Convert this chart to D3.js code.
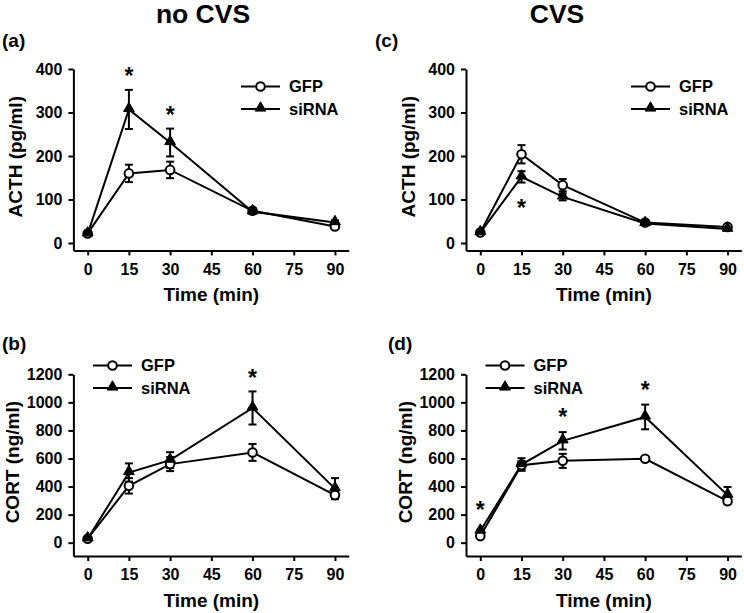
<!DOCTYPE html>
<html><head><meta charset="utf-8">
<script src="https://cdn.jsdelivr.net/npm/d3@7"></script>
<style>
body{margin:0;background:#fff;}
text{font-family:"Liberation Sans",Arial,sans-serif;font-weight:bold;fill:#000;}
</style></head>
<body><svg id="c" width="744" height="613"></svg>
<script>
const times = [0, 15, 30, 60, 90];
const xTicks = [0, 15, 30, 45, 60, 75, 90];
const acthTicks = [0, 100, 200, 300, 400];
const cortTicks = [0, 200, 400, 600, 800, 1000, 1200];
const seriesNames = ["GFP", "siRNA"];

const acthNoCvsGfp = [22, 160, 168, 74, 38];
const acthNoCvsGfpErr = [3, 20, 19, 6, 4];
const acthNoCvsSi = [21, 307, 231, 72, 47];
const acthNoCvsSiErr = [3, 45, 32, 5, 5];

const acthCvsGfp = [24, 204, 133, 47, 37];
const acthCvsGfpErr = [3, 21, 14, 4, 4];
const acthCvsSi = [24, 152, 106, 45, 32];
const acthCvsSiErr = [3, 13, 8, 4, 3];

const cortNoCvsGfp = [28, 405, 560, 643, 339];
const cortNoCvsGfpErr = [8, 55, 50, 60, 22];
const cortNoCvsSi = [28, 500, 588, 960, 385];
const cortNoCvsSiErr = [8, 65, 57, 118, 75];

const cortCvsGfp = [47, 552, 583, 598, 296];
const cortCvsGfpErr = [8, 30, 50, 12, 20];
const cortCvsSi = [83, 557, 726, 896, 339];
const cortCvsSiErr = [10, 45, 62, 88, 58];

const starsA = [[15, 395], [30, 306]];
const starsC = [[15, 92]];
const starsB = [[60, 1212]];
const starsD = [[0, 269], [30, 929], [60, 1124]];

const svg = d3.select("#c");
const FONT = '"Liberation Sans",Arial,sans-serif';

function panel(o) {
  const x = d3.scaleLinear().domain([-5.2, 95]).range([o.x0 - 14.3, o.x0 + 247.3 + 13.7]);
  const y = d3.scaleLinear().domain(o.yDom).range(o.yRange);
  const g = svg.append("g");

  const ax = g.append("g").attr("transform", `translate(0,${o.yRange[0]})`)
    .call(d3.axisBottom(x).tickValues(xTicks).tickFormat(d3.format("d")).tickSizeInner(5).tickSizeOuter(0).tickPadding(8));
  const ay = g.append("g").attr("transform", `translate(${x.range()[0]},0)`)
    .call(d3.axisLeft(y).tickValues(o.yTicks).tickFormat(d3.format("d")).tickSizeInner(5).tickSizeOuter(0).tickPadding(6));
  [ax, ay].forEach(a => {
    a.attr("font-size", null).attr("font-family", null);
    a.selectAll("path,line").attr("stroke", "#000").attr("stroke-width", 2);
    a.selectAll("text").style("font-size", "16px").style("font-family", FONT).style("font-weight", "bold");
  });

  g.append("text").attr("x", x(45)).attr("y", o.yRange[0] + 51).attr("text-anchor", "middle")
    .style("font-size", "19px").text("Time (min)");
  g.append("text").attr("transform", `translate(${o.ylabX},${(o.yRange[0] + o.yRange[1]) / 2 - 3}) rotate(-90)`)
    .attr("text-anchor", "middle").attr("dy", "0.35em").style("font-size", "19px").text(o.ylab);
  g.append("text").attr("x", o.tagX).attr("y", o.tagY).style("font-size", "19px").text(o.tag);

  const line = d3.line().x((d, i) => x(times[i])).y(d => y(d));
  const sers = [
    {v: o.gfp, e: o.gfpErr, type: "circle"},
    {v: o.si, e: o.siErr, type: "tri"}
  ];
  sers.forEach(s => {
    g.append("path").attr("d", line(s.v)).attr("fill", "none").attr("stroke", "#000").attr("stroke-width", 2);
  });
  sers.forEach(s => {
    s.v.forEach((v, i) => {
      const cx = x(times[i]);
      const t = y(v + s.e[i]), b = y(v - s.e[i]);
      g.append("line").attr("x1", cx).attr("x2", cx).attr("y1", t).attr("y2", b).attr("stroke", "#000").attr("stroke-width", 2);
      [t, b].forEach(yy => g.append("line").attr("x1", cx - 4).attr("x2", cx + 4).attr("y1", yy).attr("y2", yy).attr("stroke", "#000").attr("stroke-width", 2));
    });
  });
  const tri = d3.symbol().type(d3.symbolTriangle).size(50);
  sers.forEach(s => {
    s.v.forEach((v, i) => {
      if (s.type === "circle") {
        g.append("circle").attr("cx", x(times[i])).attr("cy", y(v)).attr("r", 4.3)
          .attr("fill", "#fff").attr("stroke", "#000").attr("stroke-width", 2);
      } else {
        g.append("path").attr("d", tri()).attr("transform", `translate(${x(times[i])},${y(v) - 1})`)
          .attr("fill", "#000").attr("stroke", "#000").attr("stroke-width", 1);
      }
    });
  });

  o.stars.forEach(([t, v]) => {
    g.append("text").attr("x", x(t)).attr("y", y(v) + 13).attr("text-anchor", "middle")
      .style("font-size", "23px").text("*");
  });

  seriesNames.forEach((n, i) => {
    const ly = o.legY + i * 22.5;
    g.append("line").attr("x1", o.legX).attr("x2", o.legX + 39).attr("y1", ly).attr("y2", ly)
      .attr("stroke", "#000").attr("stroke-width", 2);
    if (i === 0) {
      g.append("circle").attr("cx", o.legX + 19.5).attr("cy", ly).attr("r", 4.3)
        .attr("fill", "#fff").attr("stroke", "#000").attr("stroke-width", 2);
    } else {
      g.append("path").attr("d", tri()).attr("transform", `translate(${o.legX + 19.5},${ly - 1})`)
        .attr("fill", "#000").attr("stroke", "#000").attr("stroke-width", 1);
    }
    g.append("text").attr("x", o.legX + 48).attr("y", ly).attr("dy", "0.36em")
      .style("font-size", "16.5px").text(n);
  });
}

panel({x0: 87.7, yDom: [-17, 400], yRange: [250.4, 69], yTicks: acthTicks, ylab: "ACTH (pg/ml)", ylabX: 15,
  tag: "(a)", tagX: 2, tagY: 47, gfp: acthNoCvsGfp, gfpErr: acthNoCvsGfpErr, si: acthNoCvsSi, siErr: acthNoCvsSiErr,
  stars: starsA, legX: 241, legY: 86.5});
panel({x0: 480.3, yDom: [-17, 400], yRange: [250.4, 69], yTicks: acthTicks, ylab: "ACTH (pg/ml)", ylabX: 408.5,
  tag: "(c)", tagX: 375, tagY: 47, gfp: acthCvsGfp, gfpErr: acthCvsGfpErr, si: acthCvsSi, siErr: acthCvsSiErr,
  stars: starsC, legX: 631, legY: 86.5});
panel({x0: 87.7, yDom: [-95, 1200], yRange: [556, 374.3], yTicks: cortTicks, ylab: "CORT (ng/ml)", ylabX: 12,
  tag: "(b)", tagX: 2, tagY: 350, gfp: cortNoCvsGfp, gfpErr: cortNoCvsGfpErr, si: cortNoCvsSi, siErr: cortNoCvsSiErr,
  stars: starsB, legX: 93, legY: 365.5});
panel({x0: 480.3, yDom: [-95, 1200], yRange: [556, 374.3], yTicks: cortTicks, ylab: "CORT (ng/ml)", ylabX: 405.5,
  tag: "(d)", tagX: 388, tagY: 350, gfp: cortCvsGfp, gfpErr: cortCvsGfpErr, si: cortCvsSi, siErr: cortCvsSiErr,
  stars: starsD, legX: 485.5, legY: 365.5});

svg.append("text").attr("x", 203).attr("y", 23).attr("text-anchor", "middle").style("font-size", "26.5px").text("no CVS");
svg.append("text").attr("x", 557).attr("y", 23).attr("text-anchor", "middle").style("font-size", "26.5px").text("CVS");
</script></body></html>
